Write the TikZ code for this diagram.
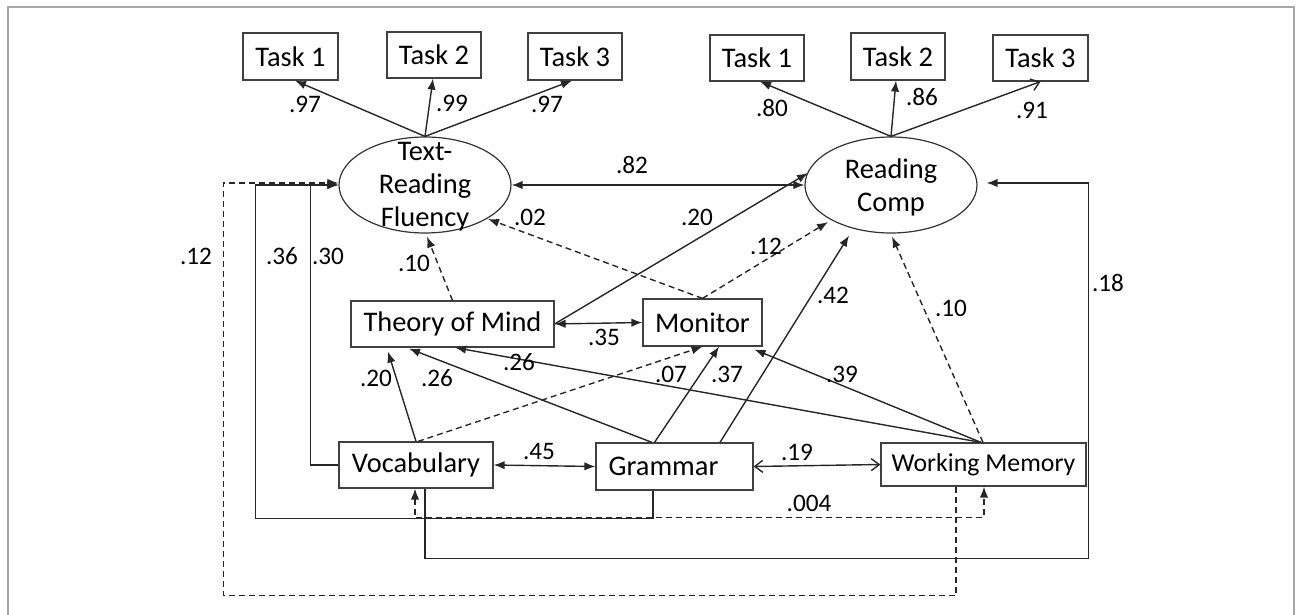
\documentclass[tikz,border=0pt]{standalone}
\usepackage{fontspec}
\setmainfont{Carlito}
\usetikzlibrary{arrows.meta,shapes.geometric,calc}
\tikzset{
  frm/.style={draw=black!35, line width=0.6pt},
  conn/.style={line width=0.7pt, draw=black!85},
  dsh/.style={conn, dash pattern=on 3pt off 2pt},
  tip/.style={-{Latex[length=5.5pt,width=4.2pt]}},
  dtip/.style={{Latex[length=5.5pt,width=4.2pt]}-{Latex[length=5.5pt,width=4.2pt]}},
  otip/.style={-{Straight Barb[length=4pt,width=6pt]}},
  dotip/.style={{Straight Barb[length=4pt,width=6pt]}-{Straight Barb[length=4pt,width=6pt]}},
  bx/.style={draw=black!75, line width=0.6pt, rectangle, inner sep=0pt, font=\fontsize{14.2}{16}\selectfont},
  ell/.style={draw=black!80, line width=0.6pt, ellipse, inner sep=0pt, minimum width=86pt, minimum height=48pt},
  etxt/.style={align=center, inner sep=0pt, font=\fontsize{14.2}{16.5}\selectfont},
  lab/.style={inner sep=0pt, font=\fontsize{12.6}{14}\selectfont}
}
\begin{document}
\begin{tikzpicture}[x=0.5pt,y=-0.5pt]
\useasboundingbox (0,0) rectangle (1296,615);
\draw[frm] (8,620) -- (8,7) -- (1294,7) -- (1294,620);

% indicator boxes
\node[bx, minimum width=47.5pt, minimum height=23.5pt] (lt1) at (290.5,56.5) {Task 1};
\node[bx, minimum width=47pt, minimum height=23pt] (lt2) at (434,55) {Task 2};
\node[bx, minimum width=47pt, minimum height=23.5pt] (lt3) at (575,56.5) {Task 3};
\node[bx, minimum width=47pt, minimum height=23pt] (rt1) at (757,58) {Task 1};
\node[bx, minimum width=47pt, minimum height=23.5pt] (rt2) at (898,56.5) {Task 2};
\node[bx, minimum width=47.5pt, minimum height=23pt] (rt3) at (1040.5,58) {Task 3};

% latent variables
\node[ell] (trf) at (425,185) {};
\node[etxt] (trft) at (425,187) {Text-\\Reading\\Fluency};
\node[ell] (rc) at (891,185) {};
\node[etxt] (rct) at (891,187) {Reading\\Comp};

% predictors
\node[bx, minimum width=101.5pt, minimum height=23pt] (tom) at (452.5,324) {Theory of Mind};
\node[bx, minimum width=59.5pt, minimum height=23.5pt] (mon) at (702.5,322.5) {Monitor};
\node[bx, minimum width=77pt, minimum height=23pt] (voc) at (416,465) {Vocabulary};
\node[bx, minimum width=78.5pt, minimum height=23.5pt] (gr) at (674.5,466.5) {Grammar\hbox to 11pt{}};
\node[bx, minimum width=102.5pt, minimum height=21.5pt, font=\fontsize{12.9}{15}\selectfont] (wm) at (983.5,464.5) {Working Memory};

% loadings
\draw[conn,tip] (trf.north) -- ($(lt1.south)+(4.5,0)$);
\draw[conn,tip] (trf.north) -- ($(lt2.south)+(-1,0)$);
\draw[conn,tip] (trf.north) -- ($(lt3.south)+(-3,0)$);
\draw[conn,tip] (rc.north) -- ($(rt1.south)+(3,0)$);
\draw[conn,tip] (rc.north) -- ($(rt2.south)+(-2,0)$);
\draw[conn,otip] (rc.north) -- ($(rt3.south)+(0,0)$);

% correlation between latents
\draw[conn,dtip] (trf.east) -- (rc.west);

% theory of mind
\draw[dsh,tip] (tom.north) -- ($(trf.south)+(2,3)$);
\draw[conn,tip] (tom.east) -- ($(rc.center)+(-83,-12)$);
\draw[conn,dtip] (tom.east) -- (mon.west);

% monitor
\draw[dsh,tip] (mon.north) -- ($(trf.center)+(63,34)$);
\draw[dsh,tip] (mon.north) -- ($(rc.center)+(-63,37)$);

% grammar
\draw[conn,tip] ($(gr.north)+(-20,0)$) -- ($(mon.south)+(16.5,0)$);
\draw[conn,tip] ($(gr.north)+(-22.5,0)$) -- ($(tom.south)+(-43.5,1)$);
\draw[conn,tip] ($(gr.north)+(45.5,0)$) -- ($(rc.south)+(-42,2)$);

% working memory
\draw[conn,tip] ($(wm.north)+(-2.5,0)$) -- ($(tom.south)+(2.5,0)$);
\draw[conn,tip] ($(wm.north)+(-2.5,0)$) -- ($(mon.south)+(52,3)$);
\draw[dsh,tip] ($(wm.north)+(-0.5,0)$) -- ($(rc.south)+(1,3)$);

% vocabulary
\draw[conn,tip] (voc.north) -- ($(tom.south)+(-64.5,4)$);
\draw[dsh,tip] ($(voc.north)+(2,0)$) -- (mon.south);

% horizontal correlations
\draw[conn,dtip] (voc.east) -- (gr.west);
\draw[conn,dotip] (gr.east) -- (wm.west);

% long paths to text-reading fluency
\draw[conn,tip] (voc.west) -- ++(-28,0) |- (trf.west);
\draw[conn,tip] ($(gr.south)+(-21.5,0)$) -- ++(0,28) -| ($(trf.west)+(-83,0)$) -- (trf.west);
\draw[dsh,tip] ($(wm.south)+(-27.5,0)$) -- ++(0,109) -| ($(trf.west)+(-115,-2)$) -- ($(trf.west)+(0,-2)$);

% vocabulary to reading comprehension
\draw[conn,tip] ($(voc.south)+(9,0)$) -- ++(0,70) -| ($(rc.east)+(111,-2)$) -- ($(rc.east)+(9,-2)$);

% vocabulary - working memory correlation
\draw[dsh,dtip] ($(voc.south)+(-1,0)$) -- ++(0,29) -| ($(wm.south)+(0.5,0)$);

% labels
\node[lab] (l1) at (305,104) {.97};
\node[lab] (l2) at (452,103) {.99};
\node[lab] (l3) at (547,104) {.97};
\node[lab] (l4) at (772,108) {.80};
\node[lab] (l5) at (922,97) {.86};
\node[lab] (l6) at (1032,110) {.91};
\node[lab] (l7) at (632,165) {.82};
\node[lab] (l8) at (530,217) {.02};
\node[lab] (l9) at (697,217) {.20};
\node[lab] (l10) at (766,246) {.12};
\node[lab] (l11) at (196,256) {.12};
\node[lab] (l12) at (282,256) {.36};
\node[lab] (l13) at (328,256) {.30};
\node[lab] (l14) at (414,263) {.10};
\node[lab] (l15) at (833,295) {.42};
\node[lab] (l16) at (951,308) {.10};
\node[lab] (l17) at (1108,283) {.18};
\node[lab] (l18) at (604,337) {.35};
\node[lab] (l19) at (376,378) {.20};
\node[lab] (l20) at (437,378) {.26};
\node[lab] (l21) at (519,362) {.26};
\node[lab] (l22) at (671,374) {.07};
\node[lab] (l23) at (727,374) {.37};
\node[lab] (l24) at (842,374) {.39};
\node[lab] (l25) at (539,452) {.45};
\node[lab] (l26) at (797,452) {.19};
\node[lab] (l27) at (809,503) {.004};
\end{tikzpicture}
\end{document}
